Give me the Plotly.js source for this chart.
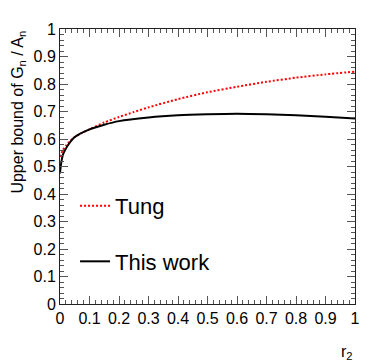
<!DOCTYPE html>
<html>
<head>
<meta charset="utf-8">
<script src="https://cdn.plot.ly/plotly-3.0.1.min.js"></script>
<style>
  html, body { margin: 0; padding: 0; background: #fff; }
  #plot { width: 374px; height: 363px; }
</style>
</head>
<body>
<div id="plot"></div>
<script>
// values
const tungR = [0, 0.01, 0.02, 0.03, 0.05, 0.075, 0.1, 0.15, 0.2, 0.25, 0.3, 0.4, 0.5, 0.6, 0.7, 0.8, 0.9, 1.0];
const tungG = [0.535, 0.56, 0.575, 0.588, 0.607, 0.622, 0.635, 0.66, 0.68, 0.698, 0.715, 0.745, 0.77, 0.79, 0.808, 0.823, 0.835, 0.845];

const workR = [0, 0.003, 0.01, 0.02, 0.03, 0.05, 0.1, 0.15, 0.2, 0.3, 0.4, 0.5, 0.6, 0.7, 0.8, 0.9, 1.0];
const workG = [0.475, 0.505, 0.543, 0.565, 0.582, 0.607, 0.635, 0.652, 0.665, 0.678, 0.686, 0.69, 0.692, 0.69, 0.686, 0.681, 0.675];

const legendNames = ['Tung', 'This work'];

const font = '"Liberation Sans", Arial, Helvetica, sans-serif';

const axisStyle = {
  range: [0, 1],
  dtick: 0.1,
  showgrid: false,
  zeroline: false,
  showline: true,
  linecolor: '#222',
  linewidth: 1,
  mirror: 'ticks',
  ticks: 'inside',
  ticklen: 8,
  tickcolor: '#555',
  tickwidth: 1,
  minor: {dtick: 0.02, ticks: 'inside', ticklen: 4, tickcolor: '#555', tickwidth: 1},
  tickfont: {family: font, size: 16, color: '#000'},
  fixedrange: true,
};

const traces = [
  {x: tungR, y: tungG, name: legendNames[0], legendgroup: 'a', type: 'scatter', mode: 'lines',
   line: {color: '#ff0000', width: 2, dash: '2px,2px', shape: 'spline', smoothing: 0.6}},
  {x: workR, y: workG, name: legendNames[1], legendgroup: 'b', type: 'scatter', mode: 'lines',
   line: {color: '#000', width: 2, shape: 'spline', smoothing: 0.6}},
];

const layout = {
  width: 374, height: 363,
  margin: {l: 60, r: 19, t: 29, b: 59},
  paper_bgcolor: '#fff', plot_bgcolor: '#fff',
  font: {family: font, color: '#000'},
  showlegend: true,
  legend: {x: 0.051, y: 0.433, xanchor: 'left', yanchor: 'top', bgcolor: 'rgba(0,0,0,0)',
           font: {family: font, size: 22}, tracegroupgap: 24, traceorder: 'grouped'},
  xaxis: Object.assign({}, axisStyle),
  yaxis: Object.assign({}, axisStyle),
  annotations: [
    {text: 'r<sub>2</sub>', xref: 'paper', yref: 'paper', x: 1, y: -0.175,
     xanchor: 'right', yanchor: 'middle', showarrow: false, font: {family: font, size: 16}},
    {text: 'Upper bound of G<sub>n</sub> / A<sub>n</sub>', xref: 'paper', yref: 'paper', x: -0.142, y: 1,
     xanchor: 'center', yanchor: 'top', textangle: -90, showarrow: false, font: {family: font, size: 16}},
  ],
};

Plotly.newPlot('plot', traces, layout, {displayModeBar: false, staticPlot: true});
</script>
</body>
</html>
